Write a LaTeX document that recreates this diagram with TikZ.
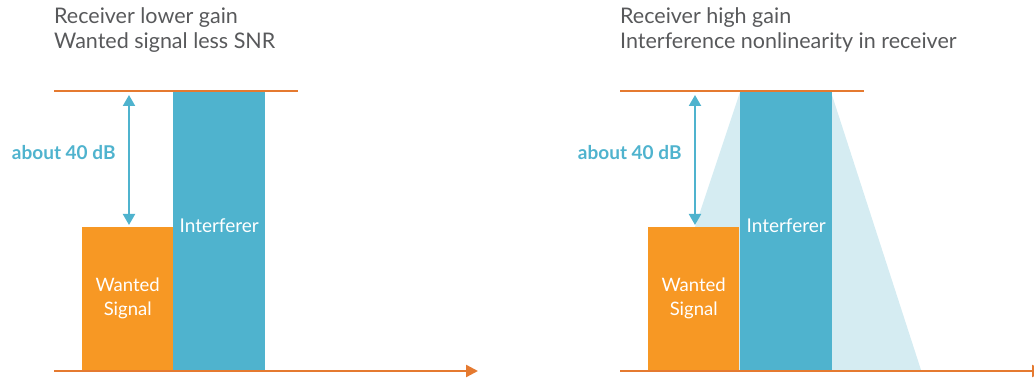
\documentclass[tikz,border=0pt]{standalone}
\usepackage{fontspec}
\setmainfont{Lato}
\usetikzlibrary{arrows.meta,positioning}

\definecolor{lineorange}{HTML}{E57A30}
\definecolor{boxorange}{HTML}{F79824}
\definecolor{intblue}{HTML}{4FB3CE}
\definecolor{spreadblue}{HTML}{D5ECF2}
\definecolor{titlegrey}{HTML}{58595B}

\tikzset{
  level/.style={lineorange, line width=2.4pt},
  axis/.style={lineorange, line width=2.4pt, -{Triangle[length=12pt,width=12pt]}},
  wantedbox/.style={fill=boxorange, draw=none, anchor=south west, minimum width=91pt,
    minimum height=143pt, inner sep=0pt, text=white, align=center,
    font=\fontsize{18.5}{24}\selectfont},
  interbox/.style={fill=intblue, draw=none, anchor=south west, minimum width=92pt,
    minimum height=278pt, inner sep=0pt},
  intlabel/.style={text=white, font=\fontsize{19}{22}\selectfont},
  gap/.style={intblue, line width=2pt, {Triangle[length=11pt,width=12pt]}-{Triangle[length=11pt,width=12pt]}},
  gaplabel/.style={text=intblue, font=\bfseries\fontsize{19}{22}\selectfont, anchor=east},
  heading/.style={text=titlegrey, anchor=north west, align=left, inner sep=0pt,
    font=\fontsize{21.5}{25.5}\selectfont}
}

\begin{document}
\begin{tikzpicture}[x=1pt,y=-1pt]
  \useasboundingbox (0,0) rectangle (1034,379);

  % left panel: lower gain
  \node[heading] (title1) at (54,7) {Receiver lower gain\\Wanted signal less SNR};
  \coordinate (top1w) at (54,91);
  \coordinate (top1e) at (298,91);
  \coordinate (ax1w) at (54,371);
  \coordinate (ax1e) at (478,371);
  \node[wantedbox] (ws1) at (82,370) {Wanted\\Signal};
  \node[interbox] (if1) at (173,370) {};
  \node[intlabel] at ([yshift=5pt]if1.center) {Interferer};
  \draw[level] (top1w) -- (top1e);
  \draw[axis] (ax1w) -- (ax1e);
  \coordinate (g1t) at (129,95);
  \coordinate (g1b) at (129,225);
  \draw[gap] (g1t) -- (g1b);
  \node[gaplabel] (db1) at (119,153) {about 40 dB};

  % right panel: high gain, interferer spreads
  \node[heading] (title2) at (620,7) {Receiver high gain\\Interference nonlinearity in receiver};
  \coordinate (top2w) at (620,91);
  \coordinate (top2e) at (864,91);
  \coordinate (ax2w) at (620,371);
  \coordinate (ax2e) at (1044,371);
  \fill[spreadblue] (695,227) -- (740,92) -- (831,92) -- (921,370) -- (695,370) -- cycle;
  \node[wantedbox] (ws2) at (648,370) {Wanted\\Signal};
  \node[interbox] (if2) at (740,370) {};
  \node[intlabel] at ([yshift=5pt]if2.center) {Interferer};
  \draw[level] (top2w) -- (top2e);
  \draw[axis] (ax2w) -- (ax2e);
  \coordinate (g2t) at (695,95);
  \coordinate (g2b) at (695,225);
  \draw[gap] (g2t) -- (g2b);
  \node[gaplabel] (db2) at (685,153) {about 40 dB};
\end{tikzpicture}
\end{document}
